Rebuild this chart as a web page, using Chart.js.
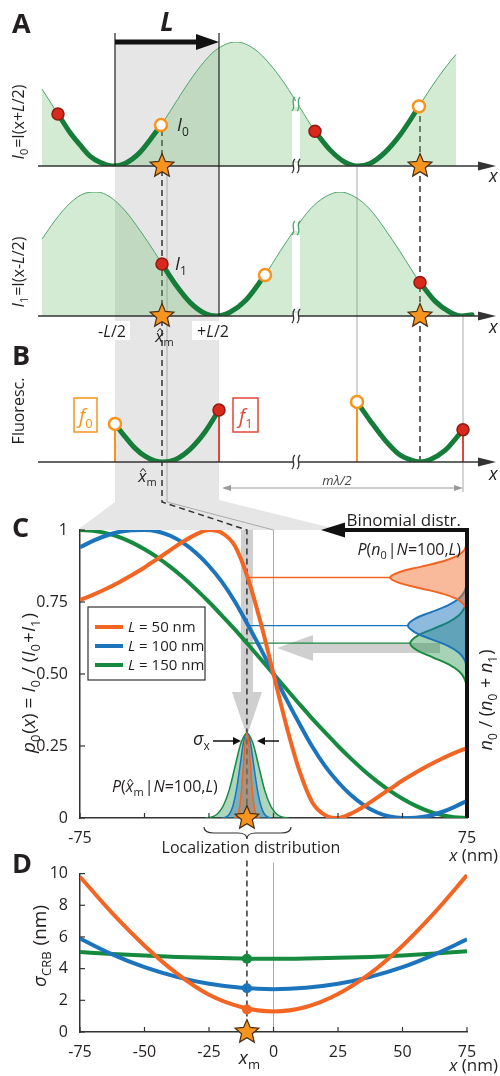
<!DOCTYPE html>
<html>
<head>
<meta charset="utf-8">
<script src="https://cdn.jsdelivr.net/npm/chart.js@4.4.1/dist/chart.umd.min.js"></script>
<style>
body{margin:0;background:#fff}
#wrap{position:relative;width:500px;height:1076px;overflow:hidden}
#wrap canvas{position:absolute;left:0}
</style>
</head>
<body>
<div id="wrap">
<canvas id="bg" width="500" height="1076" style="top:0"></canvas>
<canvas id="a1" width="500" height="180" style="top:0"></canvas>
<canvas id="a2" width="500" height="160" style="top:180px"></canvas>
<canvas id="b" width="500" height="142" style="top:338px"></canvas>
<canvas id="c" width="500" height="360" style="top:500px"></canvas>
<canvas id="d" width="500" height="216" style="top:860px"></canvas>
<canvas id="ov" width="500" height="1076" style="top:0"></canvas>
</div>
<script>
'use strict';
const F = "'Open Sans', 'Noto Sans', sans-serif";
const OR = '#f26522', BL = '#1c75bc', GR = '#168a3f';
const DKGR = '#167c39', LTGR = '#4ea56a', GFILL = 'rgba(110,185,110,0.30)';
const RED = '#d9291c', ORA = '#f7941d';
const C_TOP = 500, D_TOP = 860;

// ---- panel A / B : schematic position along x, intensity 0..1
const a1X = [42,50,60,70,80,90,100,113,125,140,155,170,185,200,215,236,255,270,285,300,315,330,345,357,370,385,400,415,430,445,456];
const a1I = [0.62,0.52,0.39,0.27,0.17,0.08,0.03,0,0.02,0.11,0.26,0.44,0.63,0.80,0.93,1,0.94,0.82,0.66,0.47,0.28,0.13,0.03,0,0.02,0.11,0.25,0.43,0.62,0.79,0.90];
const a1SegX = [[58,70,80,90,100,113,125,140,150,161],[315,330,345,357,370,385,400,419]];
const a1SegI = [[0.42,0.27,0.17,0.08,0.03,0,0.02,0.11,0.21,0.33],[0.28,0.13,0.03,0,0.02,0.11,0.25,0.48]];
const a1Red = [[58,0.42],[315,0.28]];
const a1Open = [[161,0.33],[419,0.48]];

const a2X = [42,55,70,85,97,110,125,140,155,162,175,190,205,217,230,245,265,280,295,310,325,340,355,370,385,400,420,435,450,461,472];
const a2I = [0.62,0.77,0.91,0.99,1,0.96,0.85,0.69,0.51,0.42,0.26,0.11,0.02,0,0.03,0.12,0.33,0.52,0.70,0.86,0.96,1,0.96,0.86,0.70,0.52,0.27,0.12,0.03,0,0.01];
const a2SegX = [[162,175,190,205,217,230,245,265],[420,435,450,461,472]];
const a2SegI = [[0.42,0.26,0.11,0.02,0,0.03,0.12,0.33],[0.27,0.12,0.03,0,0.01]];
const a2Red = [[162,0.42],[420,0.27]];
const a2Open = [[265,0.33]];

const bSegX = [[115,125,135,145,155,163,175,190,205,219],[357,370,385,400,410,420,430,445,463]];
const bSegF = [[0.33,0.22,0.12,0.05,0.01,0,0.02,0.11,0.26,0.45],[0.52,0.36,0.19,0.06,0.02,0,0.02,0.10,0.28]];
const bOpen = [[115,0.33],[357,0.52]];
const bRed = [[219,0.45],[463,0.28]];

// ---- panel C : p0(x) for three beam separations L
const cX = [-75,-70,-65,-60,-55,-50,-45,-40,-35,-30,-25,-20,-15,-10,-5,0,5,10,15,20,25,30,35,40,45,50,55,60,65,70,75];
const cL50 = [0.757,0.775,0.795,0.818,0.843,0.870,0.900,0.930,0.960,0.985,1.000,0.990,0.945,0.835,0.680,0.500,0.320,0.165,0.055,0.010,0.000,0.015,0.040,0.070,0.100,0.130,0.157,0.182,0.205,0.225,0.243];
const cL100 = [0.940,0.962,0.980,0.993,0.999,1.000,0.995,0.980,0.955,0.920,0.875,0.820,0.752,0.672,0.588,0.500,0.412,0.328,0.248,0.180,0.125,0.080,0.045,0.020,0.005,0.000,0.001,0.007,0.020,0.038,0.060];
const cL150 = [1.000,0.997,0.989,0.976,0.957,0.933,0.905,0.872,0.835,0.794,0.750,0.703,0.655,0.604,0.552,0.500,0.448,0.396,0.345,0.297,0.250,0.206,0.165,0.128,0.095,0.067,0.043,0.024,0.011,0.003,0.000];
const xm = -10.3;
const nMean = [0.835, 0.668, 0.607];
// binomial distributions P(n0|N=100,L), drawn sideways from the right axis
const binOrX = [75,74.7,73.7,71.0,65.3,56.9,48.7,45.2,48.7,56.9,65.3,71.0,73.7,74.7,75];
const binOrY = [0.712,0.724,0.7425,0.761,0.7795,0.798,0.8165,0.835,0.8535,0.872,0.8905,0.909,0.9275,0.946,0.958];
const binBlX = [75,74.8,74.0,71.9,67.6,61.1,54.8,52.1,54.8,61.1,67.6,71.9,74.0,74.8,75];
const binBlY = [0.513,0.527,0.5505,0.574,0.5975,0.621,0.6445,0.668,0.6915,0.715,0.7385,0.762,0.7855,0.809,0.823];
const binGrX = [75,74.8,74.0,72.0,67.9,61.7,55.6,53.0,55.6,61.7,67.9,72.0,74.0,74.8,75];
const binGrY = [0.446,0.460,0.4845,0.509,0.5335,0.558,0.5825,0.607,0.6315,0.656,0.6805,0.705,0.7295,0.754,0.768];
// localization distributions P(x_m|N=100,L)
const locY = [0,0.003,0.013,0.040,0.096,0.179,0.260,0.295,0.260,0.179,0.096,0.040,0.013,0.003,0];
const locGrX = [-26.5,-24.2,-21.9,-19.6,-17.2,-14.9,-12.6,-10.3,-8.0,-5.7,-3.4,-1.0,1.3,3.6,5.9];
const locBlX = [-19.9,-18.5,-17.1,-15.8,-14.4,-13.0,-11.7,-10.3,-8.9,-7.6,-6.2,-4.8,-3.5,-2.1,-0.7];
const locOrX = [-15.2,-14.5,-13.8,-13.1,-12.4,-11.7,-11.0,-10.3,-9.6,-8.9,-8.2,-7.5,-6.8,-6.1,-5.4];

// ---- panel D : sigma_CRB (nm)
const dX = [-75,-62.5,-50,-37.5,-25,-12.5,0,12.5,25,37.5,50,62.5,75];
const dL50 = [9.8,7.5,5.45,3.7,2.35,1.58,1.3,1.58,2.4,3.7,5.45,7.55,9.9];
const dL100 = [5.9,4.9,4.09,3.48,3.04,2.79,2.7,2.79,3.04,3.48,4.09,4.9,5.85];
const dL150 = [5.05,4.93,4.83,4.74,4.68,4.64,4.62,4.64,4.68,4.74,4.83,4.95,5.1];
const dAtXm = [4.63, 2.76, 1.42];

Chart.defaults.font.family = F;
Chart.defaults.color = '#231f20';

function pts(xs, ys) { return xs.map((x, i) => ({x: x, y: ys[i]})); }
function segs(xss, yss) {
  let out = [];
  xss.forEach((xs, k) => { if (k) out.push({x: xs[0] - 1, y: null}); out = out.concat(pts(xs, yss[k])); });
  return out;
}
function xy(arr) { return arr.map(p => ({x: p[0], y: p[1]})); }

function dots(arr, fill, stroke, w, order) {
  return {data: xy(arr), showLine: false, pointRadius: 6, pointBackgroundColor: fill,
    pointBorderColor: stroke, pointBorderWidth: w, order: order};
}

function schem(id, top, bottom, datasets) {
  return new Chart(document.getElementById(id), {
    type: 'line',
    data: {datasets: datasets},
    options: {
      responsive: false, animation: false, devicePixelRatio: 1, events: [],
      layout: {padding: {left: 38, right: 20, top: top, bottom: bottom}},
      plugins: {legend: {display: false}, tooltip: {enabled: false}},
      elements: {point: {radius: 0}, line: {cubicInterpolationMode: 'monotone'}},
      scales: {
        x: {type: 'linear', display: false, min: 38, max: 480},
        y: {display: false, min: 0, max: 1}
      }
    }
  });
}

const chA1 = schem('a1', 42, 14, [
  dots(a1Open, '#fff', ORA, 2.5, 0),
  dots(a1Red, RED, '#8e1b12', 1.5, 1),
  {data: segs(a1SegX, a1SegI), borderColor: DKGR, borderWidth: 5, borderCapStyle: 'round', order: 2},
  {data: pts(a1X, a1I), borderColor: LTGR, borderWidth: 1, fill: 'origin', backgroundColor: GFILL, order: 3}
]);
const chA2 = schem('a2', 12, 24, [
  dots(a2Open, '#fff', ORA, 2.5, 0),
  dots(a2Red, RED, '#8e1b12', 1.5, 1),
  {data: segs(a2SegX, a2SegI), borderColor: DKGR, borderWidth: 5, borderCapStyle: 'round', order: 2},
  {data: pts(a2X, a2I), borderColor: LTGR, borderWidth: 1, fill: 'origin', backgroundColor: GFILL, order: 3}
]);
const chB = schem('b', 0, 18, [
  dots(bOpen, '#fff', ORA, 2.5, 0),
  dots(bRed, RED, '#8e1b12', 1.5, 1),
  {data: segs(bSegX, bSegF), borderColor: DKGR, borderWidth: 5, borderCapStyle: 'round', order: 2},
  {data: segs([[115,115],[357,357]], [[0,0.33],[0,0.52]]), borderColor: ORA, borderWidth: 2, cubicInterpolationMode: 'default', order: 3},
  {data: segs([[219,219],[463,463]], [[0,0.45],[0,0.28]]), borderColor: '#e0463a', borderWidth: 2, cubicInterpolationMode: 'default', order: 3}
]);

// inner tick marks for C and D
const innerTicks = {
  id: 'innerTicks',
  afterDraw(ch) {
    const ctx = ch.ctx, a = ch.chartArea, sx = ch.scales.x, sy = ch.scales.y;
    ctx.save();
    ctx.strokeStyle = '#333';
    ctx.lineWidth = 1.2;
    sx.ticks.forEach(t => {
      const p = sx.getPixelForValue(t.value);
      ctx.beginPath(); ctx.moveTo(p, a.bottom); ctx.lineTo(p, a.bottom - 5); ctx.stroke();
    });
    sy.ticks.forEach(t => {
      const p = sy.getPixelForValue(t.value);
      ctx.beginPath(); ctx.moveTo(a.left, p); ctx.lineTo(a.left + 5, p); ctx.stroke();
    });
    ctx.restore();
  }
};

const cExtras = {
  id: 'cExtras',
  afterDraw(ch) {
    const ctx = ch.ctx, a = ch.chartArea;
    ctx.save();
    // right frame + binomial arrow
    ctx.strokeStyle = '#111';
    ctx.lineWidth = 4;
    ctx.beginPath();
    ctx.moveTo(a.right, a.bottom); ctx.lineTo(a.right, a.top); ctx.lineTo(342, a.top);
    ctx.stroke();
    ctx.fillStyle = '#111';
    ctx.beginPath(); ctx.moveTo(321, a.top); ctx.lineTo(345, a.top - 7.5); ctx.lineTo(345, a.top + 7.5); ctx.closePath(); ctx.fill();
    // legend
    const lx = 88, ly = a.top + 77;
    ctx.fillStyle = '#fff';
    ctx.fillRect(lx, ly, 117, 73);
    ctx.strokeStyle = '#333'; ctx.lineWidth = 1.2;
    ctx.strokeRect(lx, ly, 117, 73);
    [[OR, ' = 50 nm'], [BL, ' = 100 nm'], [GR, ' = 150 nm']].forEach((r, i) => {
      const y = ly + 20 + i * 19;
      ctx.strokeStyle = r[0]; ctx.lineWidth = 4;
      ctx.beginPath(); ctx.moveTo(lx + 7, y); ctx.lineTo(lx + 35, y); ctx.stroke();
      rich(ctx, [['L', 'i'], [r[1]]], lx + 40, y + 5, {size: 15});
    });
    ctx.restore();
  }
};

function line(ds) { return Object.assign({borderWidth: 4, cubicInterpolationMode: 'monotone'}, ds); }
function tickFont() { return {family: F, size: 16}; }

const chC = new Chart(document.getElementById('c'), {
  type: 'line',
  data: {datasets: [
    line({data: pts(cX, cL50), borderColor: OR, order: 1}),
    line({data: pts(cX, cL100), borderColor: BL, order: 2}),
    line({data: pts(cX, cL150), borderColor: GR, order: 3}),
    line({data: pts(locOrX, locY), borderColor: OR, borderWidth: 1.5, fill: 'origin', backgroundColor: 'rgba(242,101,34,0.38)', order: 4}),
    line({data: pts(locBlX, locY), borderColor: BL, borderWidth: 1.5, fill: 'origin', backgroundColor: 'rgba(28,117,188,0.38)', order: 5}),
    line({data: pts(locGrX, locY), borderColor: GR, borderWidth: 1.5, fill: 'origin', backgroundColor: 'rgba(22,138,63,0.35)', order: 6}),
    {data: [{x: xm, y: nMean[0]}, {x: 45.2, y: nMean[0]}], borderColor: OR, borderWidth: 1.3, order: 7},
    {data: [{x: xm, y: nMean[1]}, {x: 52.1, y: nMean[1]}], borderColor: BL, borderWidth: 1.3, order: 7},
    {data: [{x: xm, y: nMean[2]}, {x: 53.0, y: nMean[2]}], borderColor: GR, borderWidth: 1.3, order: 7},
    {data: pts(binOrX, binOrY), borderColor: OR, borderWidth: 2, tension: 0.4, fill: 'shape', backgroundColor: 'rgba(242,101,34,0.45)', order: 8},
    {data: pts(binBlX, binBlY), borderColor: BL, borderWidth: 2, tension: 0.4, fill: 'shape', backgroundColor: 'rgba(28,117,188,0.5)', order: 9},
    {data: pts(binGrX, binGrY), borderColor: GR, borderWidth: 2, tension: 0.4, fill: 'shape', backgroundColor: 'rgba(22,138,63,0.38)', order: 10}
  ]},
  options: {
    responsive: false, animation: false, devicePixelRatio: 1, events: [],
    layout: {padding: {left: 0, right: 33, top: 30, bottom: 0}},
    plugins: {legend: {display: false}, tooltip: {enabled: false}},
    elements: {point: {radius: 0}},
    scales: {
      x: {type: 'linear', min: -75, max: 75, afterFit: s => { s.height = 42; },
        grid: {display: false}, border: {color: '#333', width: 1.5},
        ticks: {stepSize: 25, padding: 3, maxRotation: 0, autoSkip: false, font: tickFont(),
          callback: v => (v === -75 || v === 75) ? String(v) : ''}},
      y: {min: 0, max: 1, afterFit: s => { s.width = 80; },
        grid: {display: false}, border: {color: '#333', width: 1.5},
        ticks: {stepSize: 0.25, padding: 4, font: tickFont(),
          callback: v => ({0: '0', 0.25: '0.25', 0.5: '0.50', 0.75: '0.75', 1: '1'})[v]}}
    }
  },
  plugins: [innerTicks, cExtras]
});

const chD = new Chart(document.getElementById('d'), {
  type: 'line',
  data: {datasets: [
    {data: [{x: xm, y: dAtXm[0]}, {x: xm, y: dAtXm[1]}, {x: xm, y: dAtXm[2]}], showLine: false,
      pointRadius: 5, pointBorderWidth: 0, pointBackgroundColor: [GR, BL, OR], order: 0},
    line({data: pts(dX, dL50), borderColor: OR, order: 1}),
    line({data: pts(dX, dL100), borderColor: BL, order: 2}),
    line({data: pts(dX, dL150), borderColor: GR, order: 3})
  ]},
  options: {
    responsive: false, animation: false, devicePixelRatio: 1, events: [],
    layout: {padding: {left: 0, right: 33, top: 11, bottom: 0}},
    plugins: {legend: {display: false}, tooltip: {enabled: false}},
    elements: {point: {radius: 0}},
    scales: {
      x: {type: 'linear', min: -75, max: 75, afterFit: s => { s.height = 44; },
        grid: {display: false}, border: {color: '#333', width: 1.5},
        ticks: {stepSize: 25, padding: 3, maxRotation: 0, autoSkip: false, font: tickFont()}},
      y: {min: 0, max: 10, afterFit: s => { s.width = 80; },
        grid: {display: false}, border: {color: '#333', width: 1.5},
        ticks: {stepSize: 2, padding: 4, font: tickFont()}}
    }
  },
  plugins: [innerTicks]
});

// ---------- drawing helpers
function rich(ctx, parts, x, y, o) {
  o = o || {};
  const size = o.size || 16;
  ctx.save();
  ctx.translate(x, y);
  if (o.rot) ctx.rotate(o.rot);
  const fontOf = f => (f.includes('i') ? 'italic ' : '') + (f.includes('b') || o.bold ? 'bold ' : '') +
    (f.includes('s') ? Math.round(size * 0.66) : size) + 'px ' + F;
  let total = 0;
  const ws = parts.map(p => {
    const f = p[1] || '';
    ctx.font = fontOf(f);
    const w = ctx.measureText(p[0]).width + (f.includes('s') ? 1 : 0);
    total += w;
    return w;
  });
  let cx = o.align === 'center' ? -total / 2 : o.align === 'right' ? -total : 0;
  ctx.fillStyle = o.color || '#231f20';
  ctx.strokeStyle = ctx.fillStyle;
  ctx.textAlign = 'left';
  ctx.textBaseline = 'alphabetic';
  parts.forEach((p, i) => {
    const f = p[1] || '';
    ctx.font = fontOf(f);
    ctx.fillText(p[0], cx, f.includes('s') ? size * 0.26 : 0);
    if (f.includes('h')) {
      ctx.lineWidth = 1;
      ctx.beginPath();
      ctx.moveTo(cx + ws[i] * 0.25, -size * 0.6);
      ctx.lineTo(cx + ws[i] * 0.58, -size * 0.8);
      ctx.lineTo(cx + ws[i] * 0.9, -size * 0.6);
      ctx.stroke();
    }
    cx += ws[i];
  });
  ctx.restore();
}
function path(ctx, p, color, w, dash) {
  ctx.save();
  ctx.strokeStyle = color; ctx.lineWidth = w; ctx.setLineDash(dash || []);
  ctx.beginPath();
  p.forEach((q, i) => i ? ctx.lineTo(q[0], q[1]) : ctx.moveTo(q[0], q[1]));
  ctx.stroke();
  ctx.restore();
}
function poly(ctx, p, fill) {
  ctx.save();
  ctx.fillStyle = fill;
  ctx.beginPath();
  p.forEach((q, i) => i ? ctx.lineTo(q[0], q[1]) : ctx.moveTo(q[0], q[1]));
  ctx.closePath(); ctx.fill();
  ctx.restore();
}
function star(ctx, x, y, r) {
  ctx.save();
  ctx.beginPath();
  for (let i = 0; i < 10; i++) {
    const a = -Math.PI / 2 + i * Math.PI / 5, rr = i % 2 ? r * 0.45 : r;
    ctx.lineTo(x + rr * Math.cos(a), y + rr * Math.sin(a));
  }
  ctx.closePath();
  ctx.fillStyle = ORA; ctx.fill();
  ctx.strokeStyle = '#4a2e12'; ctx.lineWidth = 1.2; ctx.stroke();
  ctx.restore();
}
function brk(ctx, x, y, color) {
  ctx.save();
  ctx.fillStyle = '#fff';
  ctx.fillRect(x - 3, y - 3, 6, 6);
  ctx.strokeStyle = color; ctx.lineWidth = 1.3;
  [-2.6, 2.6].forEach(dx => {
    ctx.beginPath();
    ctx.moveTo(x + dx + 1.5, y - 7);
    ctx.bezierCurveTo(x + dx - 3.5, y - 2, x + dx + 3.5, y + 2, x + dx - 1.5, y + 7);
    ctx.stroke();
  });
  ctx.restore();
}
function axisArrow(ctx, y) {
  path(ctx, [[38, y], [482, y]], '#333', 1.5);
  poly(ctx, [[478, y - 4.5], [496, y], [478, y + 4.5]], '#333');
}

// ---------- background layer (under the charts)
const bg = document.getElementById('bg').getContext('2d');
const cx = chC.scales.x, dx = chD.scales.x;
const pxM = cx.getPixelForValue(xm), px0 = cx.getPixelForValue(0);
const cTop = C_TOP + chC.chartArea.top, cBot = C_TOP + chC.chartArea.bottom;
const dTop = D_TOP + chD.chartArea.top, dBot = D_TOP + chD.chartArea.bottom;
const dM = dx.getPixelForValue(xm), d0 = dx.getPixelForValue(0);
poly(bg, [[115, 42], [219, 42], [219, 500], [332, 528], [332, cTop], [80, cTop], [80, cTop - 2], [115, 502]], '#e6e6e6');
// grey guide lines
path(bg, [[167, 172], [167, 502], [px0, cTop], [px0, cBot]], '#aaa', 1);
path(bg, [[d0, dTop - 11], [d0, dBot]], '#aaa', 1);
path(bg, [[357, 166], [357, 396]], '#aaa', 1);
path(bg, [[463, 316], [463, 492]], '#aaa', 1);
// m lambda / 2 arrow
path(bg, [[228, 488], [457, 488]], '#999', 1.2);
poly(bg, [[222, 488], [231, 485], [231, 491]], '#999');
poly(bg, [[463, 488], [454, 485], [454, 491]], '#999');
// big translucent grey arrows in C
const gA = 'rgba(175,175,175,0.6)';
poly(bg, [[pxM - 6, cTop], [pxM + 6, cTop], [pxM + 6, 692], [pxM + 15, 692], [pxM, 736], [pxM - 15, 692], [pxM - 6, 692]], gA);
poly(bg, [[440, 643], [313, 643], [313, 635], [277, 648], [313, 661], [313, 653], [440, 653]], gA);
// dashed guide
const dash = [6, 4];
path(bg, [[162, 130], [162, 502], [pxM, cTop], [pxM, cBot]], '#333', 1.5, dash);
path(bg, [[420, 106], [420, 462]], '#333', 1.5, dash);
path(bg, [[dM, dTop - 13], [dM, dBot]], '#333', 1.5, dash);

// ---------- overlay layer
const o = document.getElementById('ov').getContext('2d');
// break gaps
o.fillStyle = '#fff';
o.fillRect(292, 111, 8, 50);
o.fillRect(292, 235, 8, 76);
axisArrow(o, 166);
axisArrow(o, 316);
axisArrow(o, 462);
brk(o, 296, 166, '#333');
brk(o, 296, 316, '#333');
brk(o, 296, 462, '#333');
brk(o, 296, 104, LTGR);
brk(o, 296, 228, LTGR);
// L bracket
path(o, [[115, 33], [115, 166]], '#222', 1.2);
path(o, [[219, 33], [219, 316]], '#222', 1.2);
path(o, [[115, 42], [200, 42]], '#111', 5);
poly(o, [[196, 34], [219, 42], [196, 50]], '#111');
rich(o, [['L', 'ib']], 167, 31, {size: 26, align: 'center'});
// stars
star(o, 162, 166, 12.5);
star(o, 420, 166, 12.5);
star(o, 162, 316, 12.5);
star(o, 420, 316, 12.5);
star(o, pxM, cBot, 12.5);
star(o, dM, dBot, 12.5);
// panel letters
[['A', 33], ['B', 365], ['C', 537], ['D', 873]].forEach(p => rich(o, [[p[0], 'b']], 12, p[1], {size: 27}));
// A labels
rich(o, [['I', 'i'], ['0', 's']], 177, 131, {size: 18});
rich(o, [['I', 'i'], ['1', 's']], 175, 270, {size: 18});
rich(o, [['I', 'i'], ['0', 's'], ['=I(x+'], ['L', 'i'], ['/2)']], 24, 122, {size: 16, align: 'center', rot: -Math.PI / 2});
rich(o, [['I', 'i'], ['1', 's'], ['=I(x-'], ['L', 'i'], ['/2)']], 24, 272, {size: 16, align: 'center', rot: -Math.PI / 2});
rich(o, [['Fluoresc.']], 24, 411, {size: 16, align: 'center', rot: -Math.PI / 2});
[[182], [333], [480]].forEach(p => rich(o, [['x', 'i']], 489, p[0], {size: 18}));
o.fillStyle = '#fff';
o.fillRect(92, 321, 38, 19);
o.fillRect(192, 321, 42, 19);
rich(o, [['-'], ['L', 'i'], ['/2']], 112, 337, {size: 16, align: 'center'});
rich(o, [['+'], ['L', 'i'], ['/2']], 213, 337, {size: 16, align: 'center'});
rich(o, [['x', 'ih'], ['m', 's']], 165, 342, {size: 17, align: 'center'});
// B labels
o.strokeStyle = ORA; o.lineWidth = 1.5; o.strokeRect(74, 398, 23, 34);
rich(o, [['f', 'i'], ['0', 's']], 79, 423, {size: 20, color: ORA});
o.strokeStyle = '#e0463a'; o.strokeRect(233, 398, 25, 34);
rich(o, [['f', 'i'], ['1', 's']], 239, 423, {size: 20, color: '#e0463a'});
rich(o, [['x', 'ih'], ['m', 's']], 148, 482, {size: 17, align: 'center'});
rich(o, [['m\u03bb/2', 'i']], 337, 485, {size: 13, align: 'center', color: '#444'});
// C labels
rich(o, [['Binomial distr.']], 461, 526, {size: 17, align: 'right'});
rich(o, [['P', 'i'], ['('], ['n', 'i'], ['0', 's'], ['|'], ['N', 'i'], ['=100,'], ['L', 'i'], [')']], 461, 555, {size: 16, align: 'right'});
rich(o, [['p', 'i'], ['0', 's'], ['('], ['x', 'i'], [') = '], ['I', 'i'], ['0', 's'], [' / ('], ['I', 'i'], ['0', 's'], ['+'], ['I', 'i'], ['1', 's'], [')']],
  35, 683, {size: 19, align: 'center', rot: -Math.PI / 2});
rich(o, [['n', 'i'], ['0', 's'], [' / ('], ['n', 'i'], ['0', 's'], [' + '], ['n', 'i'], ['1', 's'], [')']],
  492, 700, {size: 18, align: 'center', rot: -Math.PI / 2});
rich(o, [['\u03c3', 'i'], ['x', 's']], 193, 745, {size: 18});
path(o, [[213, 741], [236, 741]], '#111', 1.5);
poly(o, [[241, 741], [233, 737], [233, 745]], '#111');
path(o, [[279, 741], [262, 741]], '#111', 1.5);
poly(o, [[257, 741], [265, 737], [265, 745]], '#111');
rich(o, [['P', 'i'], ['('], ['x', 'ih'], ['m', 's'], ['|'], ['N', 'i'], ['=100,'], ['L', 'i'], [')']], 112, 792, {size: 16});
o.save();
o.strokeStyle = '#333'; o.lineWidth = 1.2;
o.beginPath();
o.moveTo(204, 827); o.quadraticCurveTo(204, 833, 214, 833); o.lineTo(pxM - 9, 833);
o.quadraticCurveTo(pxM, 833, pxM, 839); o.quadraticCurveTo(pxM, 833, pxM + 9, 833);
o.lineTo(281, 833); o.quadraticCurveTo(291, 833, 291, 827);
o.stroke();
o.restore();
rich(o, [['Localization distribution']], 251, 853, {size: 16, align: 'center'});
rich(o, [['x', 'i'], [' (nm)']], 498, 861, {size: 17, align: 'right'});
// D labels
rich(o, [['\u03c3', 'i'], ['CRB', 's'], [' (nm)']], 46, 946, {size: 19, align: 'center', rot: -Math.PI / 2});
rich(o, [['x', 'i'], ['m', 's']], dM + 3, 1064, {size: 19, align: 'center'});
rich(o, [['x', 'i'], [' (nm)']], 498, 1071, {size: 17, align: 'right'});
</script>
</body>
</html>
